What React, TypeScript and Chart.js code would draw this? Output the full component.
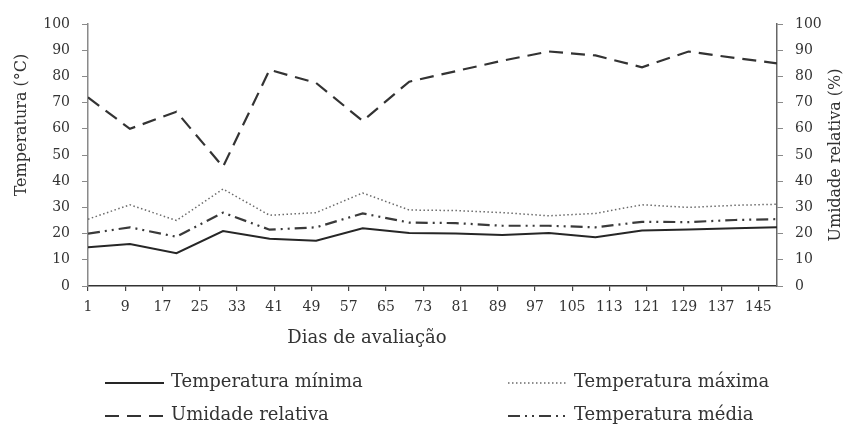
import React, { useEffect, useRef } from "react";
import { Chart, registerables } from "chart.js";
Chart.register(...registerables);

const dias = [1, 10, 20, 30, 40, 50, 60, 70, 80, 90, 100, 110, 120, 130, 140, 149];
const tempMinima = [14.8, 16, 12.5, 21, 18, 17.3, 22, 20.2, 20, 19.5, 20.2, 18.6, 21.2, 21.6, 22, 22.4];
const tempMaxima = [25.5, 31, 25, 37, 27, 28, 35.5, 29, 28.8, 28, 26.8, 27.7, 31, 30, 30.8, 31.2];
const umidadeRelativa = [72, 60, 66.5, 45.5, 82.5, 77.5, 63, 78, 82, 86, 89.5, 88, 83.5, 89.5, 87, 85];
const tempMedia = [20, 22.4, 18.8, 28, 21.5, 22.4, 27.7, 24.2, 24, 23, 23, 22.4, 24.5, 24.4, 25.2, 25.5];
const xTicks = [1, 9, 17, 25, 33, 41, 49, 57, 65, 73, 81, 89, 97, 105, 113, 121, 129, 137, 145];
const yTicks = [0, 10, 20, 30, 40, 50, 60, 70, 80, 90, 100];

const FONT = '"DejaVu Serif", serif';
const TEXT = "#333333";

const pts = (ys: number[]) => dias.map((d, i) => ({ x: d, y: ys[i] }));

const decorPlugin = {
  id: "decor",
  afterDraw(chart: any) {
    const ctx = chart.ctx;
    ctx.save();
    ctx.fillStyle = TEXT;
    ctx.textBaseline = "middle";
    ctx.textAlign = "center";
    // axis titles
    ctx.font = `16px ${FONT}`;
    ctx.save();
    ctx.translate(22, 125);
    ctx.rotate(-Math.PI / 2);
    ctx.fillText("Temperatura (°C)", 0, 0);
    ctx.restore();
    ctx.save();
    ctx.translate(836, 155);
    ctx.rotate(-Math.PI / 2);
    ctx.fillText("Umidade relativa (%)", 0, 0);
    ctx.restore();
    ctx.font = `18px ${FONT}`;
    ctx.fillText("Dias de avaliação", 367, 338);

    // legend
    const slots = [
      { ds: 0, x: 105, y: 383 },
      { ds: 1, x: 508, y: 383 },
      { ds: 2, x: 105, y: 416 },
      { ds: 3, x: 508, y: 416 },
    ];
    ctx.textAlign = "left";
    ctx.font = `18px ${FONT}`;
    slots.forEach((s) => {
      const ds = chart.data.datasets[s.ds];
      ctx.save();
      ctx.strokeStyle = ds.borderColor;
      ctx.lineWidth = ds.borderWidth;
      ctx.setLineDash(ds.borderDash || []);
      ctx.beginPath();
      ctx.moveTo(s.x, s.y);
      ctx.lineTo(s.x + 59, s.y);
      ctx.stroke();
      ctx.restore();
      ctx.fillStyle = TEXT;
      ctx.fillText(ds.label, s.x + 66, s.y - 1);
    });
    ctx.restore();
  },
};

export default function App() {
  const ref = useRef<HTMLCanvasElement>(null);
  useEffect(() => {
    if (!ref.current) return;
    const chart = new Chart(ref.current, {
      type: "line",
      data: {
        datasets: [
          {
            label: "Temperatura mínima",
            data: pts(tempMinima),
            borderColor: "#262626",
            borderWidth: 2,
            yAxisID: "y",
          },
          {
            label: "Temperatura máxima",
            data: pts(tempMaxima),
            borderColor: "#6a6a6a",
            borderWidth: 1.5,
            borderDash: [1.5, 2.5],
            yAxisID: "y",
          },
          {
            label: "Umidade relativa",
            data: pts(umidadeRelativa),
            borderColor: "#333333",
            borderWidth: 2.2,
            borderDash: [14, 8],
            yAxisID: "y1",
          },
          {
            label: "Temperatura média",
            data: pts(tempMedia),
            borderColor: "#3a3a3a",
            borderWidth: 2.2,
            borderDash: [12, 5, 2, 5, 2, 5],
            yAxisID: "y",
          },
        ] as any,
      },
      options: {
        animation: false,
        responsive: true,
        maintainAspectRatio: false,
        elements: { point: { radius: 0 }, line: { tension: 0 } },
        layout: { padding: { top: 24, left: 0, right: 0, bottom: 0 } },
        plugins: { legend: { display: false }, tooltip: { enabled: false } },
        scales: {
          x: {
            type: "linear",
            min: 1,
            max: 149,
            afterBuildTicks: (s: any) => {
              s.ticks = xTicks.map((v) => ({ value: v }));
            },
            afterFit: (s: any) => {
              s.height = 140;
            },
            ticks: { font: { family: FONT, size: 14 }, color: TEXT, padding: 8, autoSkip: false, maxRotation: 0 },
            grid: { display: true, drawOnChartArea: false, drawTicks: true, tickLength: 5, color: "#444", lineWidth: 1.2 },
            border: { display: true, color: "#333", width: 1.6 },
          },
          y: {
            position: "left",
            min: 0,
            max: 100,
            afterBuildTicks: (s: any) => {
              s.ticks = yTicks.map((v) => ({ value: v }));
            },
            afterFit: (s: any) => {
              s.width = 88;
            },
            ticks: { font: { family: FONT, size: 14 }, color: TEXT, padding: 12 },
            grid: { display: true, drawOnChartArea: false, drawTicks: true, tickLength: 6, color: "#8a8a8a", lineWidth: 1 },
            border: { display: true, color: "#8a8a8a", width: 1.5 },
          },
          y1: {
            position: "right",
            min: 0,
            max: 100,
            afterBuildTicks: (s: any) => {
              s.ticks = yTicks.map((v) => ({ value: v }));
            },
            afterFit: (s: any) => {
              s.width = 69;
            },
            ticks: { font: { family: FONT, size: 14 }, color: TEXT, padding: 12 },
            grid: { display: true, drawOnChartArea: false, drawTicks: true, tickLength: 6, color: "#8a8a8a", lineWidth: 1 },
            border: { display: true, color: "#666", width: 1.5 },
          },
        },
      } as any,
      plugins: [decorPlugin],
    });
    return () => chart.destroy();
  }, []);
  return (
    <div style={{ position: "fixed", left: 0, top: 0, width: 846, height: 426, background: "#fff" }}>
      <canvas ref={ref} />
    </div>
  );
}
